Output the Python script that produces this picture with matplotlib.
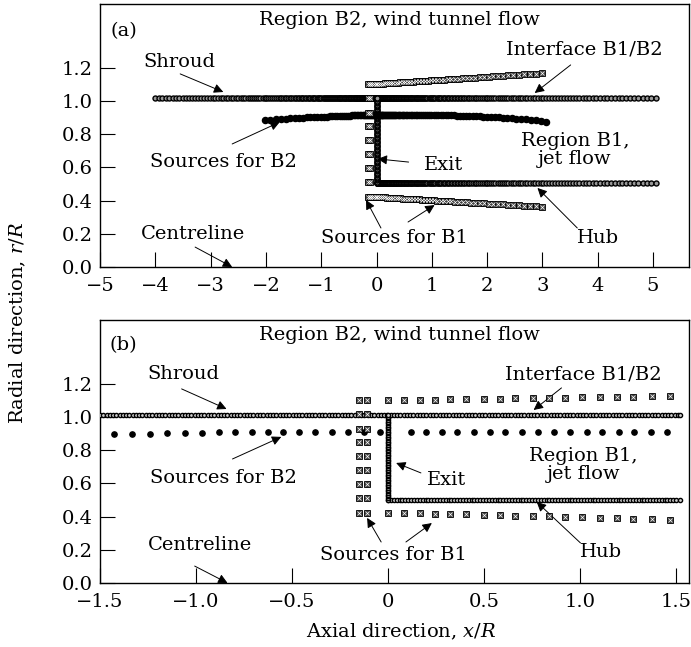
"""Panel layout of the two-region wind tunnel / jet flow source model."""

import matplotlib.pyplot as plt
import numpy as np

plt.rcParams["font.family"] = "DejaVu Serif"
plt.rcParams["mathtext.fontset"] = "dejavuserif"
plt.rcParams["font.size"] = 14


def graded(x0, x1, h0, h1):
    # nodes from x0 to x1, spacing going from h0 to h1
    pts = [x0]
    x = x0
    while True:
        h = h0 + (h1 - h0) * (x - x0) / (x1 - x0)
        x = x + h
        if x >= x1 - 0.5 * h:
            break
        pts.append(x)
    pts.append(x1)
    return np.array(pts)


# ---------------- panel (a) ----------------
shroud_r_a = 1.015
hub_r_a = 0.505
shroud_a_up = (-4.0, 0.0, 0.065, 0.006)
shroud_a_dn = (0.0, 5.05, 0.006, 0.08)
hub_a = (0.0, 5.05, 0.006, 0.08)
exit_a = (hub_r_a, shroud_r_a, 0.008, 0.008)

b2_a_up = (-2.02, 0.0, 0.1, 0.012)
b2_a_dn = (0.0, 3.07, 0.012, 0.1)
b2_prof_x = [-2.02, -1.5, -1.0, -0.5, 0.0, 0.5, 1.0, 1.5, 2.0, 2.5, 3.07]
b2_prof_r = [0.886, 0.897, 0.905, 0.912, 0.918, 0.918, 0.916, 0.912, 0.905, 0.895, 0.876]

b1_col_x = [-0.15, -0.11]
b1_col_r = [1.10, 1.02, 0.93, 0.85, 0.765, 0.68, 0.595, 0.51, 0.424]
b1_a_row = (-0.11, 3.0, 0.03, 0.11)
b1_a_upper_r = (1.10, 1.167)
b1_a_lower_r = (0.424, 0.363)

# ---------------- panel (b) ----------------
shroud_r_b = 1.012
hub_r_b = 0.502
shroud_b = (-1.5, 1.52, 0.017, 0.017)
hub_b = (0.0, 1.52, 0.015, 0.015)
exit_b = (hub_r_b, shroud_r_b, 0.01, 0.01)

b2_b_x = [-1.52, -1.428, -1.333, -1.241, -1.149, -1.057, -0.967, -0.881, -0.796,
          -0.711, -0.627, -0.545, -0.462, -0.379, -0.292, -0.209, -0.125, -0.042,
          0.118, 0.196, 0.279, 0.360, 0.447, 0.530, 0.611, 0.697, 0.780, 0.862,
          0.949, 1.035, 1.116, 1.203, 1.282, 1.369, 1.455]
b2_b_r = [0.893, 0.895, 0.898, 0.900, 0.902, 0.904, 0.906, 0.908, 0.909,
          0.910, 0.910, 0.910, 0.910, 0.910, 0.910, 0.910, 0.910, 0.910,
          0.910, 0.910, 0.910, 0.910, 0.910, 0.910, 0.910, 0.910, 0.910, 0.910,
          0.910, 0.910, 0.910, 0.910, 0.910, 0.910, 0.910]

b1_b_x = [0.002, 0.083, 0.164, 0.242, 0.325, 0.408, 0.498, 0.581, 0.659,
          0.754, 0.836, 0.923, 1.009, 1.101, 1.191, 1.277, 1.372, 1.468]
b1_b_upper_r = [1.100, 1.102, 1.104, 1.105, 1.107, 1.108, 1.110, 1.111, 1.112,
                1.114, 1.115, 1.117, 1.118, 1.120, 1.121, 1.122, 1.124, 1.125]
b1_b_lower_r = [0.424, 0.422, 0.420, 0.418, 0.416, 0.413, 0.411, 0.409, 0.406,
                0.404, 0.401, 0.399, 0.396, 0.393, 0.391, 0.388, 0.385, 0.382]


def body(ax, x, r, ms, fc):
    ax.plot(x, r, "o", ms=ms, mfc=fc, mec="black", mew=1.0, ls="none", zorder=3)


def sources_b2(ax, x, r, ms):
    ax.plot(x, r, "o", ms=ms, color="black", ls="none", zorder=4)


def sources_b1(ax, x, r, ms):
    ax.plot(x, r, "s", ms=ms, mfc="#444444", mec="black", mew=0.6, ls="none", zorder=4)
    ax.plot(x, r, "x", ms=ms * 0.55, color="white", mew=0.5, ls="none", zorder=5)


def label(ax, xy, xytext):
    ax.annotate("", xy=xy, xytext=xytext,
                arrowprops=dict(arrowstyle="-|>", color="black", lw=0.7,
                                mutation_scale=14, shrinkA=0, shrinkB=0))


def style(ax, xticks, xlabels, xlim):
    ax.set_xlim(*xlim)
    ax.set_ylim(0, 1.584)
    ax.set_xticks(xticks)
    ax.set_xticklabels(xlabels)
    ax.set_yticks([0.0, 0.2, 0.4, 0.6, 0.8, 1.0, 1.2])
    ax.set_yticklabels(["0.0", "0.2", "0.4", "0.6", "0.8", "1.0", "1.2"])
    ax.tick_params(direction="in", length=11, width=0.8, pad=5, labelsize=14)
    ax.tick_params(axis="x", pad=7.5)
    for s in ax.spines.values():
        s.set_linewidth(1.0)


fig = plt.figure(figsize=(6.91, 6.47), dpi=100)
ax_a = fig.add_axes([100 / 691, 1 - 267 / 647, 589 / 691, 263 / 647])
ax_b = fig.add_axes([100 / 691, 1 - 583 / 647, 589 / 691, 263 / 647])

# ---- draw (a) ----
x = np.concatenate([graded(*shroud_a_up), graded(*shroud_a_dn)])
body(ax_a, x, np.full(len(x), shroud_r_a), 3.6, "#9a9a9a")
x = graded(*hub_a)
body(ax_a, x, np.full(len(x), hub_r_a), 3.6, "#9a9a9a")
r = graded(*exit_a)
body(ax_a, np.zeros(len(r)), r, 3.6, "#9a9a9a")

x = np.concatenate([graded(*b2_a_up), graded(*b2_a_dn)[1:]])
sources_b2(ax_a, x, np.interp(x, b2_prof_x, b2_prof_r), 4.4)

x = graded(*b1_a_row)
f = (x - x[0]) / (x[-1] - x[0])
sources_b1(ax_a, x, b1_a_upper_r[0] + f * (b1_a_upper_r[1] - b1_a_upper_r[0]), 4)
sources_b1(ax_a, x, b1_a_lower_r[0] + f * (b1_a_lower_r[1] - b1_a_lower_r[0]), 4)
for cx in b1_col_x:
    sources_b1(ax_a, np.full(len(b1_col_r), cx), b1_col_r, 4)

style(ax_a, range(-5, 6), [f"{v}".replace("-", "\u2212") for v in range(-5, 6)], (-5, 5.65))

ax_a.text(-4.81, 1.418, "(a)", ha="left", va="center")
ax_a.text(0.42, 1.488, "Region B2, wind tunnel flow", ha="center", va="center")
ax_a.text(-4.22, 1.235, "Shroud", ha="left", va="center")
label(ax_a, (-2.77, 1.054), (-3.55, 1.163))
ax_a.text(3.75, 1.307, "Interface B1/B2", ha="center", va="center")
label(ax_a, (2.86, 1.048), (3.51, 1.217))
ax_a.text(-2.77, 0.633, "Sources for B2", ha="center", va="center")
label(ax_a, (-1.75, 0.873), (-2.61, 0.741))
ax_a.text(1.21, 0.614, "Exit", ha="center", va="center")
label(ax_a, (0.02, 0.651), (0.58, 0.632))
ax_a.text(3.59, 0.705, "Region B1,\njet flow", ha="center", va="center", linespacing=1.0)
ax_a.text(4.0, 0.175, "Hub", ha="center", va="center")
label(ax_a, (2.91, 0.476), (3.63, 0.235))
ax_a.text(0.32, 0.175, "Sources for B1", ha="center", va="center")
label(ax_a, (-0.19, 0.404), (0.08, 0.235))
label(ax_a, (1.05, 0.373), (0.57, 0.271))
ax_a.text(-3.31, 0.199, "Centreline", ha="center", va="center")
label(ax_a, (-2.61, 0.0), (-3.28, 0.12))

# ---- draw (b) ----
x = graded(*shroud_b)
body(ax_b, x, np.full(len(x), shroud_r_b), 3.0, "#d0d0d0")
x = graded(*hub_b)
body(ax_b, x, np.full(len(x), hub_r_b), 3.0, "#d0d0d0")
r = graded(*exit_b)
body(ax_b, np.zeros(len(r)), r, 3.0, "#d0d0d0")

sources_b2(ax_b, b2_b_x, b2_b_r, 3.8)
sources_b1(ax_b, b1_b_x, b1_b_upper_r, 4.2)
sources_b1(ax_b, b1_b_x, b1_b_lower_r, 4.2)
for cx in b1_col_x:
    sources_b1(ax_b, np.full(len(b1_col_r), cx), b1_col_r, 4.2)

style(ax_b, [-1.5, -1.0, -0.5, 0, 0.5, 1.0, 1.5],
      ["\u22121.5", "\u22121.0", "\u22120.5", "0", "0.5", "1.0", "1.5"], (-1.5, 1.567))

ax_b.text(-1.45, 1.434, "(b)", ha="left", va="center")
ax_b.text(0.057, 1.494, "Region B2, wind tunnel flow", ha="center", va="center")
ax_b.text(-1.251, 1.259, "Shroud", ha="left", va="center")
label(ax_b, (-0.841, 1.048), (-1.075, 1.169))
ax_b.text(1.015, 1.253, "Interface B1/B2", ha="center", va="center")
label(ax_b, (0.758, 1.042), (0.903, 1.175))
ax_b.text(-0.859, 0.632, "Sources for B2", ha="center", va="center")
label(ax_b, (-0.556, 0.88), (-0.81, 0.747))
ax_b.text(0.306, 0.62, "Exit", ha="center", va="center")
label(ax_b, (0.042, 0.723), (0.171, 0.663))
ax_b.text(1.018, 0.708, "Region B1,\njet flow", ha="center", va="center", linespacing=1.0)
ax_b.text(1.111, 0.187, "Hub", ha="center", va="center")
label(ax_b, (0.774, 0.488), (1.002, 0.241))
ax_b.text(0.029, 0.169, "Sources for B1", ha="center", va="center")
label(ax_b, (-0.109, 0.392), (-0.036, 0.247))
label(ax_b, (0.228, 0.361), (0.093, 0.247))
ax_b.text(-0.981, 0.229, "Centreline", ha="center", va="center")
label(ax_b, (-0.836, 0.0), (-1.007, 0.102))

fig.text(18 / 691, 1 - 323 / 647, r"Radial direction, $r/R$", rotation=90,
         ha="center", va="center", fontsize=14)
fig.text(401 / 691, 1 - 632 / 647, r"Axial direction, $x/R$",
         ha="center", va="center", fontsize=14)

fig.savefig("out.png", dpi=100)
